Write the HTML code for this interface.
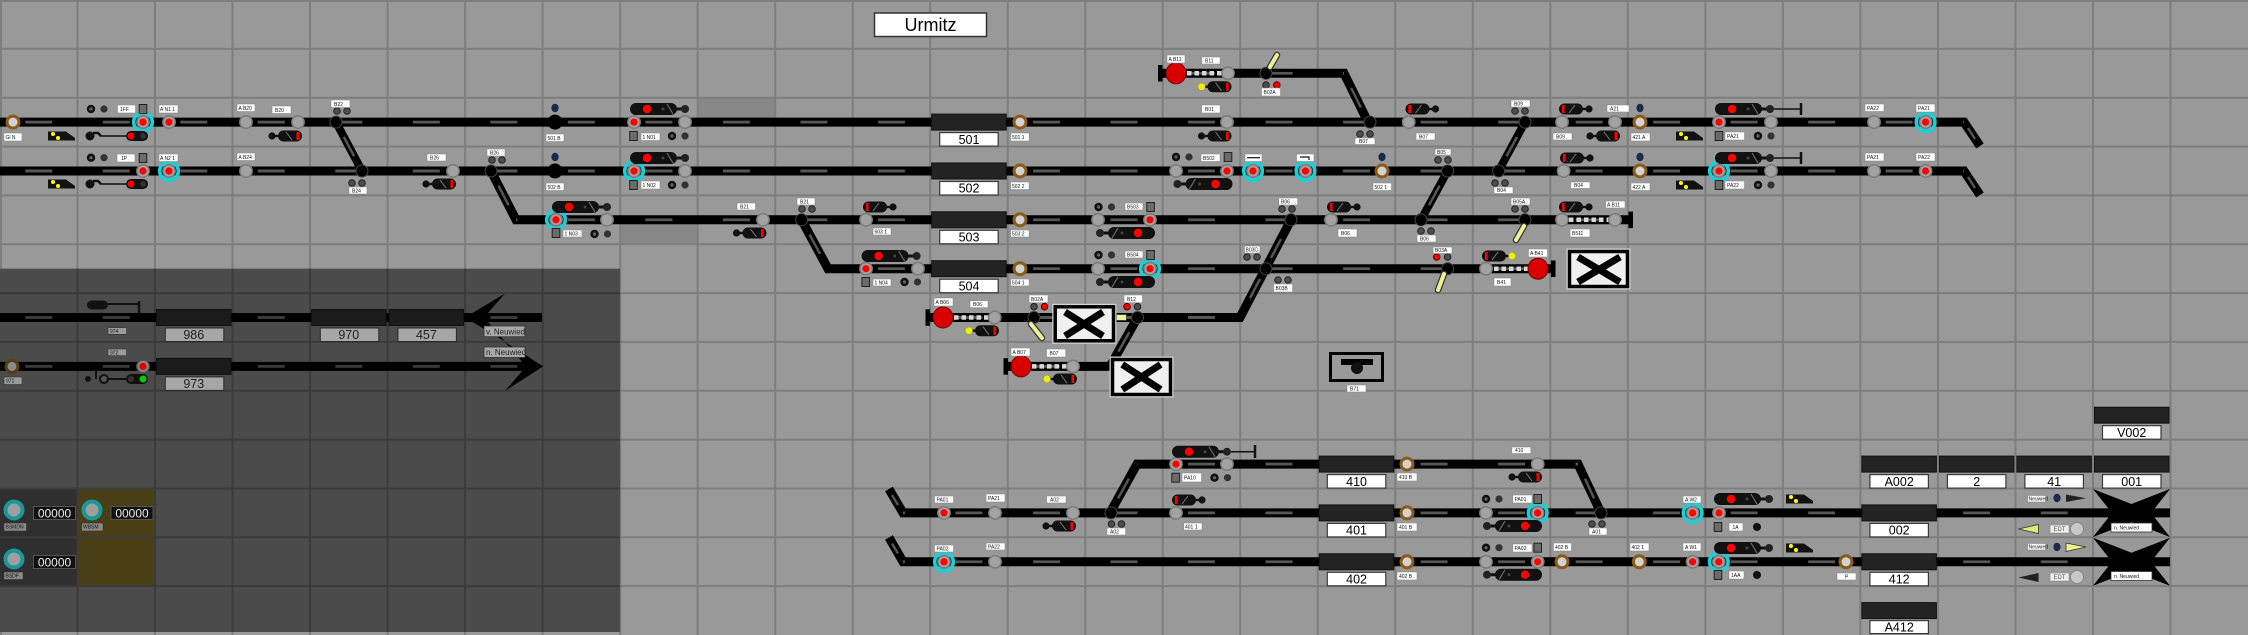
<!DOCTYPE html>
<html><head><meta charset="utf-8"><style>
html,body{margin:0;padding:0;background:#999;}
svg{display:block;}
.l{fill:#fff;stroke:#8a8a8a;stroke-width:.6}
.t{font-family:"Liberation Sans",sans-serif;font-size:5px;fill:#111}
.bk{fill:#232323;stroke:#111;stroke-width:1}
.bl{fill:#fff;stroke:#3a3a3a;stroke-width:1.2}
.bt{font-family:"Liberation Sans",sans-serif;font-size:12.5px;fill:#000;text-anchor:middle}
.dl{fill:#a6a6a6;stroke:#2a2a2a;stroke-width:1}
.dt{font-family:"Liberation Sans",sans-serif;font-size:12.5px;fill:#222;text-anchor:middle}
</style></head><body>
<svg width="2248" height="635" viewBox="0 0 2248 635" xmlns="http://www.w3.org/2000/svg">
<defs>
<pattern id="dp" x="0" y="0" width="77.517" height="48.846" patternUnits="userSpaceOnUse"><rect x="25.26" y="22.92" width="27" height="3" fill="#575757"/></pattern>
<pattern id="dq" x="0" y="0" width="77.517" height="48.846" patternUnits="userSpaceOnUse"><rect x="25.26" y="22.92" width="27" height="3" fill="#3a3a3a"/></pattern>
<g id="g"><circle r="6.2" fill="#a2a2a2" stroke="#7a7a7a" stroke-width="1.5"/></g>
<g id="r"><circle r="6.2" fill="#a2a2a2" stroke="#7a7a7a" stroke-width="1.5"/><circle r="3.6" fill="#f00"/></g>
<g id="c"><circle r="9.3" fill="none" stroke="#18d0d8" stroke-width="3.6"/><circle r="6.2" fill="#a2a2a2" stroke="#7a7a7a" stroke-width="1.5"/><circle r="3.6" fill="#f00"/></g>
<g id="b"><circle r="6" fill="#d2d2d2" stroke="#8b5b1b" stroke-width="3"/></g>
<g id="j"><circle r="6" fill="#000" stroke="#444" stroke-width="1"/></g>
<g id="J"><circle r="7.5" fill="#000"/></g>
<g id="n"><ellipse rx="3.6" ry="4.2" fill="#1b2a4a"/></g>
<g id="dd"><circle cx="-5" r="3.3" fill="#4d4d4d" stroke="#222" stroke-width="1"/><circle cx="5" r="3.3" fill="#4d4d4d" stroke="#222" stroke-width="1"/></g>
<g id="k2"><circle cx="-6.5" r="4.2" fill="#111"/><circle cx="-6.5" r="1.6" fill="#666"/><circle cx="6.5" r="3.6" fill="#333"/></g>
<g id="sq"><rect x="-3.8" y="-4.5" width="7.6" height="9" fill="#6b6b6b" stroke="#222" stroke-width="1"/></g>
<g id="dR"><circle cx="-14" r="3.6" fill="#111"/><rect x="-12" y="-1.2" width="5" height="2.4" fill="#111"/><rect x="-8" y="-5.5" width="24" height="11" rx="5.5" fill="#111"/><line x1="0" y1="-4" x2="6" y2="4" stroke="#777" stroke-width="1"/><rect x="10.5" y="-4" width="2.6" height="8" fill="#f00"/></g>
<g id="dL"><use href="#dR" transform="scale(-1,1)"/></g>
<g id="H"><rect x="0" y="-6" width="47" height="12" rx="6" fill="#111"/><circle cx="17" r="4.2" fill="#f00"/><circle cx="33" r="1.5" fill="#444"/><line x1="37" y1="-5" x2="43" y2="5" stroke="#777" stroke-width="1"/><rect x="46" y="-1.5" width="6" height="3" fill="#111"/><circle cx="55" r="4" fill="#222"/></g>
<g id="Y"><path d="M0,-4.5 H18 L27,2 V4.5 H0 Z" fill="#111"/><circle cx="5" cy="-2" r="2" fill="#ff0"/><circle cx="10" cy="2" r="2" fill="#ff0"/></g>
<g id="rd"><circle r="3.3" fill="#e00" stroke="#600" stroke-width="1"/></g>
<g id="dk"><circle r="3.3" fill="#4d4d4d" stroke="#222" stroke-width="1"/></g>
</defs>

<!-- background -->
<rect x="0" y="0" width="2248" height="635" fill="#999"/>
<rect x="697.65" y="97.69" width="77.52" height="24.42" fill="#878787"/>
<rect x="620.14" y="219.8" width="77.52" height="24.42" fill="#878787"/>

<!-- grid -->
<g stroke="#7e7e7e" stroke-width="2">
<line x1="77.52" y1="0" x2="77.52" y2="635"/><line x1="155.03" y1="0" x2="155.03" y2="635"/><line x1="232.55" y1="0" x2="232.55" y2="635"/><line x1="310.07" y1="0" x2="310.07" y2="635"/><line x1="387.59" y1="0" x2="387.59" y2="635"/><line x1="465.1" y1="0" x2="465.1" y2="635"/><line x1="542.62" y1="0" x2="542.62" y2="635"/><line x1="620.14" y1="0" x2="620.14" y2="635"/><line x1="697.65" y1="0" x2="697.65" y2="635"/><line x1="775.17" y1="0" x2="775.17" y2="635"/><line x1="852.69" y1="0" x2="852.69" y2="635"/><line x1="930.2" y1="0" x2="930.2" y2="635"/><line x1="1007.72" y1="0" x2="1007.72" y2="635"/><line x1="1085.24" y1="0" x2="1085.24" y2="635"/><line x1="1162.76" y1="0" x2="1162.76" y2="635"/><line x1="1240.27" y1="0" x2="1240.27" y2="635"/><line x1="1317.79" y1="0" x2="1317.79" y2="635"/><line x1="1395.31" y1="0" x2="1395.31" y2="635"/><line x1="1472.82" y1="0" x2="1472.82" y2="635"/><line x1="1550.34" y1="0" x2="1550.34" y2="635"/><line x1="1627.86" y1="0" x2="1627.86" y2="635"/><line x1="1705.37" y1="0" x2="1705.37" y2="635"/><line x1="1782.89" y1="0" x2="1782.89" y2="635"/><line x1="1860.41" y1="0" x2="1860.41" y2="635"/><line x1="1937.93" y1="0" x2="1937.93" y2="635"/><line x1="2015.44" y1="0" x2="2015.44" y2="635"/><line x1="2092.96" y1="0" x2="2092.96" y2="635"/><line x1="2170.48" y1="0" x2="2170.48" y2="635"/>
<line x1="0" y1="48.85" x2="2248" y2="48.85"/><line x1="0" y1="97.69" x2="2248" y2="97.69"/><line x1="0" y1="146.54" x2="2248" y2="146.54"/><line x1="0" y1="195.38" x2="2248" y2="195.38"/><line x1="0" y1="244.23" x2="2248" y2="244.23"/><line x1="0" y1="293.08" x2="2248" y2="293.08"/><line x1="0" y1="341.92" x2="2248" y2="341.92"/><line x1="0" y1="390.77" x2="2248" y2="390.77"/><line x1="0" y1="439.62" x2="2248" y2="439.62"/><line x1="0" y1="488.46" x2="2248" y2="488.46"/><line x1="0" y1="537.31" x2="2248" y2="537.31"/><line x1="0" y1="586.15" x2="2248" y2="586.15"/>
<line x1="0" y1="1" x2="2248" y2="1"/><line x1="1" y1="0" x2="1" y2="635"/>
</g>

<!-- dark region -->
<rect x="0" y="268.7" width="620.1" height="363.3" fill="#4b4b4b"/>
<rect x="0" y="488.46" width="77.52" height="97.69" fill="#2f2f2f"/>
<rect x="77.52" y="488.46" width="77.51" height="97.69" fill="#4a3e17"/>
<g stroke="#3b3b3b" stroke-width="2">
<line x1="77.52" y1="268.7" x2="77.52" y2="632"/><line x1="155.03" y1="268.7" x2="155.03" y2="632"/><line x1="232.55" y1="268.7" x2="232.55" y2="632"/><line x1="310.07" y1="268.7" x2="310.07" y2="632"/><line x1="387.59" y1="268.7" x2="387.59" y2="632"/><line x1="465.1" y1="268.7" x2="465.1" y2="632"/><line x1="542.62" y1="268.7" x2="542.62" y2="632"/>
<line x1="0" y1="293.08" x2="620" y2="293.08"/><line x1="0" y1="341.92" x2="620" y2="341.92"/><line x1="0" y1="390.77" x2="620" y2="390.77"/><line x1="0" y1="439.62" x2="620" y2="439.62"/><line x1="0" y1="488.46" x2="620" y2="488.46"/><line x1="0" y1="537.31" x2="620" y2="537.31"/><line x1="0" y1="586.15" x2="620" y2="586.15"/>
</g>

<!-- title -->
<rect x="874.5" y="13" width="112" height="23.5" fill="#fff" stroke="#333" stroke-width="1.5"/>
<text x="930.5" y="31" font-family="Liberation Sans, sans-serif" font-size="18" text-anchor="middle" fill="#000">Urmitz</text>

<!-- tracks -->
<g fill="none" stroke="#000" stroke-width="9" stroke-linejoin="miter">
<polyline points="0,122.1 1964,122.1 1980,146"/>
<polyline points="0,171 1964,171 1980,195"/>
<line x1="336" y1="122.1" x2="362" y2="171" stroke-width="8"/>
<polyline points="491,171 516,219.8 1630,219.8"/>
<polyline points="801.6,219.8 828,268.7 1553,268.7"/>
<polyline points="1161,73.3 1344,73.3 1368,122.1"/>
<line x1="1498.6" y1="171" x2="1525" y2="122.1" stroke-width="8"/>
<line x1="1421" y1="219.8" x2="1447.6" y2="171" stroke-width="8"/>
<polyline points="928,317.5 1240,317.5 1291,219.8"/>
<polyline points="1006,366.4 1110,366.4 1137.5,317.5"/>
<polyline points="1110,512.9 1137,464.1 1578,464.1 1601,512.9"/>
<polyline points="889,489 903,512.9 2170,512.9"/>
<polyline points="889,537.5 903,561.8 2170,561.8"/>
<line x1="0" y1="317.5" x2="542" y2="317.5"/>
<line x1="0" y1="366.4" x2="530" y2="366.4"/>
</g>
<!-- dashes -->
<rect x="0" y="120.6" width="1964" height="3" fill="url(#dp)"/>
<rect x="0" y="169.5" width="1964" height="3" fill="url(#dp)"/>
<rect x="516" y="218.3" width="1114" height="3" fill="url(#dp)"/>
<rect x="828" y="267.2" width="725" height="3" fill="url(#dp)"/>
<rect x="1161" y="71.8" width="183" height="3" fill="url(#dp)"/>
<rect x="928" y="316" width="312" height="3" fill="url(#dp)"/>
<rect x="1006" y="364.9" width="104" height="3" fill="url(#dp)"/>
<rect x="1137" y="462.6" width="441" height="3" fill="url(#dp)"/>
<rect x="903" y="511.4" width="1267" height="3" fill="url(#dp)"/>
<rect x="903" y="560.3" width="1267" height="3" fill="url(#dp)"/>
<rect x="0" y="316" width="542" height="3" fill="url(#dq)"/>
<rect x="0" y="364.9" width="542" height="3" fill="url(#dq)"/>
<g stroke="#555" stroke-width="2.5">
<line x1="343.8" y1="136.8" x2="354.2" y2="156.3"/>
<line x1="498.5" y1="185.6" x2="508.5" y2="205.2"/>
<line x1="809.5" y1="234.5" x2="820.1" y2="254"/>
<line x1="1351.2" y1="88" x2="1360.8" y2="107.5"/>
<line x1="1506.5" y1="156.3" x2="1517.1" y2="136.8"/>
<line x1="1429" y1="205.2" x2="1439.6" y2="185.6"/>
<line x1="1250" y1="298" x2="1260" y2="279"/>
<line x1="1271" y1="258" x2="1281" y2="239"/>
<line x1="1118.3" y1="351.7" x2="1129.3" y2="332.2"/>
<line x1="1118.1" y1="498.3" x2="1128.9" y2="478.7"/>
<line x1="1585" y1="478.7" x2="1594" y2="498.3"/>
<line x1="892" y1="495" x2="898" y2="505"/>
<line x1="892" y1="543.5" x2="898" y2="553.5"/>
<line x1="1968" y1="128" x2="1975" y2="139"/>
<line x1="1968" y1="177" x2="1975" y2="188"/>
</g>
<!-- checkers -->
<g stroke="#d8d8d8" stroke-width="4.5" stroke-dasharray="4.5 3">
<line x1="1187" y1="73.3" x2="1222" y2="73.3"/>
<line x1="954" y1="317.5" x2="989" y2="317.5"/>
<line x1="1032" y1="366.4" x2="1067" y2="366.4"/>
<line x1="1569" y1="219.8" x2="1610" y2="219.8"/>
<line x1="1494" y1="268.7" x2="1529" y2="268.7"/>
</g>
<!-- end bars -->
<g fill="#000">
<rect x="1158" y="65" width="4.5" height="16.5"/>
<rect x="925.5" y="309.3" width="4.5" height="16.5"/>
<rect x="1003.5" y="358.2" width="4.5" height="16.5"/>
<rect x="1628.5" y="211.6" width="4.5" height="16.5"/>
<rect x="1551" y="260.5" width="4.5" height="16.5"/>
</g>

<!-- dark area content -->
<rect x="87" y="300.5" width="21" height="9" rx="4.5" fill="#111"/>
<line x1="108" y1="304" x2="139" y2="304" stroke="#111" stroke-width="2"/>
<line x1="139" y1="301" x2="139" y2="313" stroke="#111" stroke-width="2.5"/>
<rect x="108" y="327.7" width="18.5" height="6.6" fill="#9a9a9a" stroke="#333" stroke-width=".6"/><text class="t" x="110" y="333">974</text>
<rect x="108" y="349" width="18.5" height="6.7" fill="#9a9a9a" stroke="#333" stroke-width=".6"/><text class="t" x="110" y="354.3">972</text>
<rect x="4" y="377" width="18" height="7.5" fill="#9a9a9a" stroke="#333" stroke-width=".6"/><text class="t" x="6" y="382.5">971</text>
<circle cx="12" cy="366.4" r="6" fill="#8a8a8a" stroke="#5a3c12" stroke-width="3"/>
<circle cx="143" cy="366.4" r="6.2" fill="#8a8a8a" stroke="#555" stroke-width="1.5"/><circle cx="143" cy="366.4" r="3.6" fill="#d00"/>
<circle cx="88" cy="379" r="3" fill="#111"/>
<line x1="96" y1="370" x2="96" y2="379" stroke="#111" stroke-width="2"/>
<circle cx="104" cy="379" r="4" fill="#555" stroke="#111" stroke-width="2"/>
<line x1="108" y1="379" x2="126" y2="379" stroke="#111" stroke-width="2"/>
<rect x="126" y="374" width="22" height="10" rx="5" fill="#111"/>
<circle cx="131" cy="379" r="3" fill="#333"/><circle cx="143" cy="379" r="3.5" fill="#0c0"/>
<rect x="156.5" y="309.5" width="74.5" height="16" fill="#1b1b1b" stroke="#111"/>
<rect x="311.6" y="309.5" width="74.5" height="16" fill="#1b1b1b" stroke="#111"/>
<rect x="389.1" y="309.5" width="74.5" height="16" fill="#1b1b1b" stroke="#111"/>
<rect x="156.5" y="358.4" width="74.5" height="16" fill="#1b1b1b" stroke="#111"/>
<rect class="dl" x="165.3" y="328" width="58.5" height="13.5"/><text class="dt" x="193.8" y="339.2">986</text>
<rect class="dl" x="320.3" y="328" width="58.5" height="13.5"/><text class="dt" x="348.8" y="339.2">970</text>
<rect class="dl" x="397.9" y="328" width="58.5" height="13.5"/><text class="dt" x="426.4" y="339.2">457</text>
<rect class="dl" x="165.3" y="376.9" width="58.5" height="13.5"/><text class="dt" x="193.8" y="388.1">973</text>
<polygon points="465,317.5 505,293.5 487,314 487,321 505,341.5" fill="#000"/>
<polygon points="543,366.4 505,342 523,363 523,370 505,391" fill="#000"/>
<rect x="484" y="326" width="41" height="10.7" fill="#a8a8a8" stroke="#333" stroke-width=".8"/><text x="486" y="334.3" font-family="Liberation Sans, sans-serif" font-size="8" fill="#222">v. Neuwied</text>
<rect x="484" y="347" width="41" height="10.5" fill="#a8a8a8" stroke="#333" stroke-width=".8"/><text x="486" y="355.2" font-family="Liberation Sans, sans-serif" font-size="8" fill="#222">n. Neuwied</text>
<!-- bottom panel -->
<circle cx="14" cy="510" r="8.5" fill="#9e9e9e" stroke="#17989a" stroke-width="4"/>
<circle cx="92" cy="510" r="8.5" fill="#9e9e9e" stroke="#17989a" stroke-width="4"/>
<circle cx="14" cy="559" r="8.5" fill="#9e9e9e" stroke="#17989a" stroke-width="4"/>
<rect x="33.5" y="506.5" width="42" height="13" fill="#111" stroke="#555" stroke-width="1"/><text x="54.5" y="517.6" font-family="Liberation Sans, sans-serif" font-size="12" fill="#e8e8e8" text-anchor="middle">00000</text>
<rect x="111" y="506.5" width="42" height="13" fill="#111" stroke="#555" stroke-width="1"/><text x="132" y="517.6" font-family="Liberation Sans, sans-serif" font-size="12" fill="#e8e8e8" text-anchor="middle">00000</text>
<rect x="33.5" y="555.5" width="42" height="13" fill="#111" stroke="#555" stroke-width="1"/><text x="54.5" y="566.6" font-family="Liberation Sans, sans-serif" font-size="12" fill="#e8e8e8" text-anchor="middle">00000</text>
<rect x="4" y="523" width="22.5" height="8" fill="#8a8a8a" stroke="#333" stroke-width=".6"/><text class="t" x="5.5" y="528.7">BSMDN</text>
<rect x="81.6" y="523" width="21.4" height="8" fill="#8a8a8a" stroke="#333" stroke-width=".6"/><text class="t" x="83" y="528.7">WBSM</text>
<rect x="4" y="572" width="19" height="7.5" fill="#8a8a8a" stroke="#333" stroke-width=".6"/><text class="t" x="5.5" y="577.5">BSDF</text>

<!-- blocks light area -->
<rect class="bk" x="931.7" y="114.1" width="74.5" height="16"/><rect class="bl" x="939.7" y="132.6" width="58.5" height="13.5"/><text class="bt" x="969" y="143.8">501</text>
<rect class="bk" x="931.7" y="163" width="74.5" height="16"/><rect class="bl" x="939.7" y="181.5" width="58.5" height="13.5"/><text class="bt" x="969" y="192.7">502</text>
<rect class="bk" x="931.7" y="211.8" width="74.5" height="16"/><rect class="bl" x="939.7" y="230.3" width="58.5" height="13.5"/><text class="bt" x="969" y="241.5">503</text>
<rect class="bk" x="931.7" y="260.7" width="74.5" height="16"/><rect class="bl" x="939.7" y="279.2" width="58.5" height="13.5"/><text class="bt" x="969" y="290.4">504</text>
<rect class="bk" x="1319.3" y="456.1" width="74.5" height="16"/><rect class="bl" x="1327.3" y="474.6" width="58.5" height="13.5"/><text class="bt" x="1356.6" y="485.8">410</text>
<rect class="bk" x="1319.3" y="504.9" width="74.5" height="16"/><rect class="bl" x="1327.3" y="523.4" width="58.5" height="13.5"/><text class="bt" x="1356.6" y="534.6">401</text>
<rect class="bk" x="1319.3" y="553.8" width="74.5" height="16"/><rect class="bl" x="1327.3" y="572.3" width="58.5" height="13.5"/><text class="bt" x="1356.6" y="583.5">402</text>
<rect class="bk" x="2094.5" y="407.2" width="74.5" height="16"/><rect class="bl" x="2102.5" y="425.7" width="58.5" height="13.5"/><text class="bt" x="2131.7" y="436.9">V002</text>
<rect class="bk" x="1861.9" y="456.1" width="74.5" height="16"/><rect class="bl" x="1869.9" y="474.6" width="58.5" height="13.5"/><text class="bt" x="1899.2" y="485.8">A002</text>
<rect class="bk" x="1939.4" y="456.1" width="74.5" height="16"/><rect class="bl" x="1947.4" y="474.6" width="58.5" height="13.5"/><text class="bt" x="1976.7" y="485.8">2</text>
<rect class="bk" x="2016.9" y="456.1" width="74.5" height="16"/><rect class="bl" x="2024.9" y="474.6" width="58.5" height="13.5"/><text class="bt" x="2054.2" y="485.8">41</text>
<rect class="bk" x="2094.5" y="456.1" width="74.5" height="16"/><rect class="bl" x="2102.5" y="474.6" width="58.5" height="13.5"/><text class="bt" x="2131.7" y="485.8">001</text>
<rect class="bk" x="1861.9" y="504.9" width="74.5" height="16"/><rect class="bl" x="1869.9" y="523.4" width="58.5" height="13.5"/><text class="bt" x="1899.2" y="534.6">002</text>
<rect class="bk" x="1861.9" y="553.8" width="74.5" height="16"/><rect class="bl" x="1869.9" y="572.3" width="58.5" height="13.5"/><text class="bt" x="1899.2" y="583.5">412</text>
<rect class="bk" x="1861.9" y="602.6" width="74.5" height="16"/><rect class="bl" x="1869.9" y="620.6" width="58.5" height="13"/><text class="bt" x="1899.2" y="631.4">A412</text>

<!-- Track 1 signals -->
<use href="#b" x="13" y="122.1"/><use href="#c" x="143" y="122.1"/><use href="#r" x="169" y="122.1"/><use href="#g" x="246" y="122.1"/><use href="#g" x="298" y="122.1"/><use href="#j" x="336" y="122.1"/><use href="#J" x="555" y="122.1"/><use href="#r" x="634" y="122.1"/><use href="#g" x="685" y="122.1"/><use href="#b" x="1020" y="122.1"/><use href="#g" x="1227" y="122.1"/><use href="#j" x="1370" y="122.1"/><use href="#g" x="1408.7" y="122.1"/><use href="#j" x="1525" y="122.1"/><use href="#g" x="1562" y="122.1"/><use href="#g" x="1615" y="122.1"/><use href="#b" x="1640" y="122.1"/><use href="#r" x="1719" y="122.1"/><use href="#g" x="1771" y="122.1"/><use href="#g" x="1874" y="122.1"/><use href="#c" x="1925.6" y="122.1"/>
<use href="#k2" x="97.5" y="109"/><use href="#sq" x="143" y="109"/><use href="#dd" x="342" y="111"/><use href="#n" x="555" y="108"/><use href="#H" x="630" y="109"/><use href="#dL" x="1421.5" y="109"/><use href="#dd" x="1520" y="111"/><use href="#dL" x="1575" y="109"/><use href="#n" x="1640" y="108"/><use href="#H" x="1715" y="109"/>
<line x1="1774" y1="109" x2="1800" y2="109" stroke="#111" stroke-width="1.5"/><line x1="1801" y1="103" x2="1801" y2="115" stroke="#111" stroke-width="2.5"/>
<use href="#Y" x="48" y="136"/><use href="#dR" x="286" y="136"/><use href="#sq" x="633.5" y="136"/><use href="#k2" x="678.5" y="136"/><use href="#dR" x="1215.5" y="136"/><use href="#dd" x="1365" y="134"/><use href="#dR" x="1604" y="136"/><use href="#Y" x="1676" y="136"/><use href="#sq" x="1719" y="136"/><use href="#k2" x="1764.5" y="136"/>
<!-- shunt signals left -->
<g>
<circle cx="90" cy="136" r="4.5" fill="#111"/><path d="M93,133 L98,133 L101,136" fill="none" stroke="#111" stroke-width="2.5"/><line x1="100" y1="136" x2="127" y2="136" stroke="#111" stroke-width="1.5"/><rect x="126" y="131" width="22" height="10" rx="5" fill="#111"/><circle cx="131" cy="136" r="3.5" fill="#f00"/><circle cx="143" cy="136" r="3" fill="#333"/>
<circle cx="90" cy="184" r="4.5" fill="#111"/><path d="M93,181 L98,181 L101,184" fill="none" stroke="#111" stroke-width="2.5"/><line x1="100" y1="184" x2="127" y2="184" stroke="#111" stroke-width="1.5"/><rect x="126" y="179" width="22" height="10" rx="5" fill="#111"/><circle cx="131" cy="184" r="3.5" fill="#f00"/><circle cx="143" cy="184" r="3" fill="#333"/>
</g>

<!-- Track 2 signals -->
<use href="#r" x="143" y="171"/><use href="#c" x="169" y="171"/><use href="#g" x="246" y="171"/><use href="#j" x="362" y="171"/><use href="#g" x="453" y="171"/><use href="#j" x="491" y="171"/><use href="#J" x="555" y="171"/><use href="#c" x="634" y="171"/><use href="#g" x="685" y="171"/><use href="#b" x="1020" y="171"/><use href="#g" x="1176" y="171"/><use href="#r" x="1227" y="171"/><use href="#c" x="1253" y="171"/><use href="#c" x="1305.5" y="171"/><use href="#b" x="1382" y="171"/><use href="#j" x="1447.6" y="171"/><use href="#j" x="1498.6" y="171"/><use href="#g" x="1563.6" y="171"/><use href="#b" x="1640" y="171"/><use href="#c" x="1719" y="171"/><use href="#g" x="1771" y="171"/><use href="#g" x="1874" y="171"/><use href="#r" x="1925.6" y="171"/>
<use href="#k2" x="97.5" y="157.7"/><use href="#sq" x="143" y="158"/><use href="#dd" x="497" y="160"/><use href="#n" x="555" y="157"/><use href="#H" x="630" y="158"/><use href="#k2" x="1182.5" y="157"/><use href="#sq" x="1228" y="157"/><use href="#n" x="1382" y="157"/><use href="#dd" x="1443" y="160"/><use href="#dL" x="1576" y="158"/><use href="#n" x="1640" y="157"/><use href="#H" x="1715" y="158"/>
<line x1="1774" y1="158" x2="1800" y2="158" stroke="#111" stroke-width="1.5"/><line x1="1801" y1="152" x2="1801" y2="164" stroke="#111" stroke-width="2.5"/>
<use href="#Y" x="48" y="184"/><use href="#dd" x="357" y="183"/><use href="#dR" x="440" y="184"/><use href="#sq" x="633.5" y="185"/><use href="#k2" x="678.5" y="185"/><use href="#H" transform="translate(1232.5,184) scale(-1,1)"/><use href="#dd" x="1500" y="183"/><use href="#Y" x="1676" y="185"/><use href="#sq" x="1719" y="185"/><use href="#k2" x="1764.5" y="185"/>

<!-- Track 3 signals -->
<use href="#c" x="556" y="219.8"/><use href="#g" x="607" y="219.8"/><use href="#g" x="763" y="219.8"/><use href="#j" x="801.6" y="219.8"/><use href="#g" x="866" y="219.8"/><use href="#b" x="1020" y="219.8"/><use href="#g" x="1098" y="219.8"/><use href="#r" x="1150" y="219.8"/><use href="#j" x="1291" y="219.8"/><use href="#g" x="1331" y="219.8"/><use href="#j" x="1421" y="219.8"/><use href="#j" x="1525" y="219.8"/><use href="#g" x="1562" y="219.8"/><use href="#g" x="1615" y="219.8"/>
<use href="#H" x="552" y="207"/><use href="#dd" x="807" y="209"/><use href="#dL" x="879" y="207"/><use href="#k2" x="1105" y="207"/><use href="#sq" x="1150.6" y="207"/><use href="#dd" x="1287" y="209"/><use href="#dL" x="1343" y="207"/><use href="#dd" x="1520" y="209"/><use href="#dL" x="1575" y="207"/>
<use href="#sq" x="556" y="233"/><use href="#k2" x="601" y="234"/><use href="#dR" x="750.5" y="233"/><use href="#H" transform="translate(1155,233) scale(-1,1)"/><use href="#dd" x="1426" y="231"/>

<!-- Track 4 signals -->
<use href="#r" x="866" y="268.7"/><use href="#g" x="918" y="268.7"/><use href="#b" x="1020" y="268.7"/><use href="#g" x="1098" y="268.7"/><use href="#c" x="1150" y="268.7"/><use href="#j" x="1266" y="268.7"/><use href="#j" x="1447.6" y="268.7"/><use href="#g" x="1486" y="268.7"/>
<use href="#H" x="861.6" y="256"/><use href="#k2" x="1105" y="255"/><use href="#sq" x="1150.6" y="255"/><use href="#dd" x="1252" y="257"/><use href="#rd" x="1436.7" y="257"/><use href="#dk" x="1447.6" y="257"/><use href="#dL" x="1498" y="256"/><circle cx="1512" cy="256" r="3.6" fill="#ee0"/>
<use href="#sq" x="865.7" y="282"/><use href="#k2" x="911" y="282"/><use href="#H" transform="translate(1155,282) scale(-1,1)"/><use href="#dd" x="1283" y="280"/>

<!-- Top track -->
<use href="#g" x="1228" y="73.3"/><use href="#j" x="1266" y="73.3"/>
<use href="#dR" x="1215.5" y="86.7"/><circle cx="1201.6" cy="86.7" r="3.6" fill="#ee0"/>
<use href="#dk" x="1266" y="85"/><use href="#rd" x="1276.8" y="85"/>

<!-- Track 5/6 -->
<use href="#g" x="994.7" y="317.5"/><use href="#j" x="1034" y="317.5"/><use href="#j" x="1137.5" y="317.5"/>
<use href="#dk" x="1034" y="306.7"/><use href="#rd" x="1044.5" y="306.7"/><use href="#rd" x="1127" y="306.7"/><use href="#dk" x="1137.5" y="306.7"/>
<use href="#dR" x="983" y="330.7"/><circle cx="969" cy="330.7" r="3.6" fill="#ee0"/>
<use href="#g" x="1073" y="366.4"/>
<use href="#dR" x="1061" y="379"/><circle cx="1047" cy="379" r="3.6" fill="#ee0"/>

<!-- Big red signals -->
<g fill="#d80000" stroke="#700" stroke-width="1">
<ellipse cx="1176" cy="73.3" rx="10" ry="10.5"/>
<ellipse cx="943" cy="317.5" rx="10" ry="10.5"/>
<ellipse cx="1021" cy="366.4" rx="10" ry="10.5"/>
<ellipse cx="1538" cy="268.7" rx="10" ry="10.5"/>
</g>

<!-- yellow stubs -->
<g stroke-linecap="round">
<line x1="1277" y1="55" x2="1270" y2="67" stroke="#333" stroke-width="6.5"/><line x1="1277" y1="55" x2="1270" y2="67" stroke="#eef09a" stroke-width="4"/>
<line x1="1524" y1="226" x2="1516" y2="240" stroke="#333" stroke-width="6.5"/><line x1="1524" y1="226" x2="1516" y2="240" stroke="#eef09a" stroke-width="4"/>
<line x1="1444" y1="274" x2="1438" y2="290" stroke="#333" stroke-width="6.5"/><line x1="1444" y1="274" x2="1438" y2="290" stroke="#eef09a" stroke-width="4"/>
<line x1="1031" y1="324" x2="1042" y2="338" stroke="#333" stroke-width="6.5"/><line x1="1031" y1="324" x2="1042" y2="338" stroke="#eef09a" stroke-width="4"/>
</g>
<rect x="1116.5" y="314.5" width="10" height="6" fill="#eef09a" stroke="#333" stroke-width=".8"/>

<!-- X boxes -->
<g>
<rect x="1052.7" y="304.3" width="63.3" height="39" fill="#f0f0f0" stroke="#d0d0d0" stroke-width="1"/><rect x="1055.2" y="306.8" width="58.3" height="34" fill="none" stroke="#000" stroke-width="3.5"/><path d="M1065,312 L1103,336 M1103,312 L1065,336" stroke="#000" stroke-width="7"/>
<rect x="1110" y="357" width="63" height="40" fill="#f0f0f0" stroke="#d0d0d0" stroke-width="1"/><rect x="1112.5" y="359.5" width="58" height="35" fill="none" stroke="#000" stroke-width="3.5"/><path d="M1122.3,364.5 L1160.6,389.5 M1160.6,364.5 L1122.3,389.5" stroke="#000" stroke-width="7"/>
<rect x="1567" y="249" width="63" height="40" fill="#f0f0f0" stroke="#d0d0d0" stroke-width="1"/><rect x="1569.5" y="251.5" width="58" height="35" fill="none" stroke="#000" stroke-width="3.5"/><path d="M1578,257 L1620,282 M1620,257 L1578,282" stroke="#000" stroke-width="7"/>
</g>
<!-- symbol box -->
<rect x="1330.5" y="353.5" width="52" height="27" fill="#9a9a9a" stroke="#000" stroke-width="3"/>
<rect x="1341" y="359" width="32" height="6" fill="#000"/><circle cx="1357" cy="368" r="6" fill="#111"/>

<!-- Track 410 -->
<use href="#r" x="1176" y="464.1"/><use href="#g" x="1227" y="464.1"/><use href="#b" x="1407" y="464.1"/><use href="#g" x="1537.7" y="464.1"/>
<use href="#H" x="1172" y="451.7"/><line x1="1231" y1="451.7" x2="1254" y2="451.7" stroke="#111" stroke-width="1.5"/><line x1="1255" y1="445" x2="1255" y2="458" stroke="#111" stroke-width="2.5"/>
<use href="#sq" x="1175.6" y="477.7"/><use href="#k2" x="1221" y="477.7"/><use href="#dR" x="1526" y="477"/>
<!-- Track 401 -->
<use href="#r" x="944" y="512.9"/><use href="#g" x="995" y="512.9"/><use href="#g" x="1073" y="512.9"/><use href="#j" x="1111" y="512.9"/><use href="#g" x="1176" y="512.9"/><use href="#b" x="1407" y="512.9"/><use href="#g" x="1486" y="512.9"/><use href="#c" x="1537.7" y="512.9"/><use href="#j" x="1601" y="512.9"/><use href="#c" x="1692.6" y="512.9"/><use href="#r" x="1719" y="512.9"/>
<use href="#dL" x="1188" y="500"/><use href="#k2" x="1492.5" y="499"/><use href="#sq" x="1537.7" y="499"/><use href="#H" x="1714" y="499"/><use href="#Y" x="1786" y="499"/>
<use href="#dR" x="1060" y="526"/><use href="#dd" x="1116.5" y="524"/><use href="#H" transform="translate(1542,526) scale(-1,1)"/><use href="#dd" x="1597" y="524"/><use href="#sq" x="1718" y="527"/><circle cx="1757" cy="527" r="4" fill="#111"/>
<!-- Track 402 -->
<use href="#c" x="944" y="561.8"/><use href="#g" x="995" y="561.8"/><use href="#b" x="1407" y="561.8"/><use href="#g" x="1486" y="561.8"/><use href="#r" x="1537.7" y="561.8"/><use href="#b" x="1562" y="561.8"/><use href="#b" x="1639.3" y="561.8"/><use href="#r" x="1692.6" y="561.8"/><use href="#c" x="1718.8" y="561.8"/><use href="#b" x="1846" y="561.8"/>
<use href="#k2" x="1492.5" y="547.7"/><use href="#sq" x="1537.7" y="547.7"/><use href="#H" x="1714" y="548"/><use href="#Y" x="1786" y="548"/>
<use href="#H" transform="translate(1542,574.7) scale(-1,1)"/><use href="#sq" x="1718" y="575"/><circle cx="1757" cy="575" r="4" fill="#111"/>

<!-- right side stars and triangles -->
<polygon points="2093,489 2131.5,504 2170,489 2151,513 2170,537 2131.5,522 2093,537 2112,513" fill="#000"/>
<polygon points="2093,537.8 2131.5,552.8 2170,537.8 2151,561.8 2170,585.8 2131.5,570.8 2093,585.8 2112,561.8" fill="#000"/>
<polygon points="2066,494.5 2086,498.2 2066,502" fill="#222"/>
<polygon points="2018.5,529 2038.5,524.5 2038.5,533.5" fill="#d8ec78" stroke="#333" stroke-width=".8"/>
<polygon points="2066,543 2086,547 2066,551.5" fill="#eef08a" stroke="#333" stroke-width=".8"/>
<polygon points="2018.5,577.5 2038.5,573 2038.5,582" fill="#222"/>
<use href="#n" x="2057" y="498"/><use href="#n" x="2057" y="547"/>
<circle cx="2077" cy="529" r="6.5" fill="#c8c8c8" stroke="#888" stroke-width="1"/>
<circle cx="2077" cy="577" r="6.5" fill="#c8c8c8" stroke="#888" stroke-width="1"/>

<!-- small labels -->
<g>
<rect class="l" x="4" y="133" width="18" height="8"/><text class="t" x="5.5" y="139">Gl N</text>
<rect class="l" x="117.5" y="105" width="18" height="8"/><text class="t" x="120" y="111">1FF</text>
<rect class="l" x="159" y="105" width="19" height="8"/><text class="t" x="160" y="111">A N1 1</text>
<rect class="l" x="237" y="104" width="18" height="7.5"/><text class="t" x="238.5" y="110">A B20</text>
<rect class="l" x="272" y="106" width="19" height="7.5"/><text class="t" x="275" y="112">B20</text>
<rect class="l" x="331" y="100" width="19" height="7.5"/><text class="t" x="334" y="106">B22</text>
<rect class="l" x="546" y="134" width="18" height="7.5"/><text class="t" x="547.5" y="140">501 B</text>
<rect class="l" x="641" y="133" width="19" height="7.5"/><text class="t" x="642.5" y="139">1 N01</text>
<rect class="l" x="1010.6" y="133" width="18.5" height="8"/><text class="t" x="1012" y="139">501 1</text>
<rect class="l" x="1201.6" y="105" width="18.5" height="8"/><text class="t" x="1205" y="111">B01</text>
<rect class="l" x="1355" y="138" width="20" height="6.5"/><text class="t" x="1359" y="143">B07</text>
<rect class="l" x="1416" y="133" width="19" height="7"/><text class="t" x="1419" y="138.5">B07</text>
<rect class="l" x="1511" y="100" width="19" height="7"/><text class="t" x="1514" y="105.5">B09</text>
<rect class="l" x="1553" y="133" width="19" height="7"/><text class="t" x="1556" y="138.5">B09</text>
<rect class="l" x="1607" y="105" width="22" height="7"/><text class="t" x="1610" y="110.5">A21</text>
<rect class="l" x="1631" y="133" width="19" height="8"/><text class="t" x="1632.5" y="139">421 A</text>
<rect class="l" x="1725" y="132" width="19.5" height="8"/><text class="t" x="1727" y="138">PA21</text>
<rect class="l" x="1865" y="104" width="19" height="7.5"/><text class="t" x="1867" y="110">PA22</text>
<rect class="l" x="1916" y="104" width="19" height="8"/><text class="t" x="1918" y="110">PA21</text>

<rect class="l" x="117" y="154" width="18" height="8"/><text class="t" x="121" y="160">1P</text>
<rect class="l" x="159" y="154" width="19" height="7.5"/><text class="t" x="160" y="160">A N2 1</text>
<rect class="l" x="237" y="153" width="18" height="7.5"/><text class="t" x="238.5" y="159">A B24</text>
<rect class="l" x="349" y="187" width="18" height="7"/><text class="t" x="352" y="192.5">B24</text>
<rect class="l" x="427" y="154" width="19" height="7"/><text class="t" x="430" y="159.5">B26</text>
<rect class="l" x="487" y="149" width="18" height="7"/><text class="t" x="490" y="154.5">B26</text>
<rect class="l" x="546" y="183" width="18" height="7.5"/><text class="t" x="547.5" y="189">502 B</text>
<rect class="l" x="641" y="181" width="19" height="8"/><text class="t" x="642.5" y="187">1 N02</text>
<rect class="l" x="1010.6" y="182" width="18.5" height="7.5"/><text class="t" x="1012" y="188">502 2</text>
<rect class="l" x="1201" y="154" width="19" height="7.5"/><text class="t" x="1203" y="160">B502</text>
<rect class="l" x="1245" y="154" width="17" height="7.5"/><line x1="1247" y1="157.7" x2="1260" y2="157.7" stroke="#111" stroke-width="1.2"/>
<rect class="l" x="1296.5" y="154" width="17.5" height="7.5"/><path d="M1300,157 H1309 V160" fill="none" stroke="#111" stroke-width="1.2"/>
<rect class="l" x="1373" y="183" width="18.5" height="7.5"/><text class="t" x="1374.5" y="189">502 1</text>
<rect class="l" x="1435" y="149" width="16" height="6"/><text class="t" x="1437" y="154">B05</text>
<rect class="l" x="1494" y="187" width="19" height="6.5"/><text class="t" x="1497" y="192">B04</text>
<rect class="l" x="1570.6" y="182" width="19.4" height="6.5"/><text class="t" x="1574" y="187">B04</text>
<rect class="l" x="1631" y="183" width="19" height="7.5"/><text class="t" x="1632.5" y="189">422 A</text>
<rect class="l" x="1725" y="181" width="19.5" height="8"/><text class="t" x="1727" y="187">PA22</text>
<rect class="l" x="1865" y="153" width="19" height="8"/><text class="t" x="1867" y="159">PA21</text>
<rect class="l" x="1916" y="153" width="19" height="8"/><text class="t" x="1918" y="159">PA22</text>

<rect class="l" x="563" y="230" width="19" height="7"/><text class="t" x="564.5" y="235.5">1 N03</text>
<rect class="l" x="737" y="203" width="18.5" height="7"/><text class="t" x="740" y="208.5">B21</text>
<rect class="l" x="797" y="198" width="18" height="7"/><text class="t" x="800" y="203.5">B21</text>
<rect class="l" x="873" y="228" width="18" height="7"/><text class="t" x="874.5" y="233.5">503 1</text>
<rect class="l" x="1010.6" y="230" width="18.5" height="7"/><text class="t" x="1012" y="235.5">503 2</text>
<rect class="l" x="1125" y="203" width="18" height="7"/><text class="t" x="1127" y="208.5">B503</text>
<rect class="l" x="1278.7" y="198" width="19" height="7"/><text class="t" x="1281" y="203.5">B06</text>
<rect class="l" x="1338" y="229" width="19" height="8"/><text class="t" x="1341" y="235">B06</text>
<rect class="l" x="1417" y="235" width="19" height="7"/><text class="t" x="1420" y="240.5">B06</text>
<rect class="l" x="1511" y="198" width="19" height="7"/><text class="t" x="1513" y="203.5">B05A</text>
<rect class="l" x="1570" y="229" width="20" height="8"/><text class="t" x="1572" y="235">B511</text>
<rect class="l" x="1605.6" y="201" width="19.4" height="7"/><text class="t" x="1607" y="206.5">A B11</text>

<rect class="l" x="873" y="279" width="18" height="7"/><text class="t" x="874.5" y="284.5">1 N04</text>
<rect class="l" x="1010.6" y="279" width="18.5" height="7"/><text class="t" x="1012" y="284.5">504 1</text>
<rect class="l" x="1125" y="251" width="18" height="7"/><text class="t" x="1127" y="256.5">B504</text>
<rect class="l" x="1244.5" y="246" width="15.5" height="7"/><text class="t" x="1245.5" y="251.5">B03C</text>
<rect class="l" x="1273.6" y="284" width="19" height="8"/><text class="t" x="1275.5" y="290">B03B</text>
<rect class="l" x="1433" y="247" width="19" height="6.5"/><text class="t" x="1435" y="252">B03A</text>
<rect class="l" x="1494" y="278" width="17" height="8"/><text class="t" x="1497" y="284">B41</text>
<rect class="l" x="1528.5" y="249" width="19" height="8"/><text class="t" x="1530" y="255">A B41</text>

<rect class="l" x="1167" y="55" width="18" height="8"/><text class="t" x="1168.5" y="61">A B11</text>
<rect class="l" x="1201.6" y="57" width="18.5" height="7"/><text class="t" x="1205" y="62.5">B11</text>
<rect class="l" x="1261.5" y="88" width="19" height="8"/><text class="t" x="1263.5" y="94">B02A</text>

<rect class="l" x="934" y="298" width="19" height="8"/><text class="t" x="935.5" y="304">A B06</text>
<rect class="l" x="970" y="300.7" width="18" height="7"/><text class="t" x="973" y="306.2">B06</text>
<rect class="l" x="1029" y="295" width="19" height="7.7"/><text class="t" x="1031" y="301">B02A</text>
<rect class="l" x="1124" y="295" width="18.5" height="7.7"/><text class="t" x="1127" y="301">B12</text>
<rect class="l" x="1011" y="348" width="19" height="8"/><text class="t" x="1012.5" y="354">A B07</text>
<rect class="l" x="1046.5" y="349" width="19.2" height="8"/><text class="t" x="1049.5" y="355">B07</text>
<rect class="l" x="1347" y="385" width="19" height="7"/><text class="t" x="1350" y="390.5">B71</text>

<rect class="l" x="1182" y="473" width="19.5" height="9"/><text class="t" x="1184" y="479.5">PA10</text>
<rect class="l" x="1397" y="473" width="20" height="8"/><text class="t" x="1399" y="479">410 B</text>
<rect class="l" x="1511.8" y="447" width="19" height="6.5"/><text class="t" x="1515" y="452">410</text>
<rect class="l" x="934.5" y="496" width="19" height="7"/><text class="t" x="936.5" y="501.5">PA01</text>
<rect class="l" x="986" y="494" width="19" height="8"/><text class="t" x="988" y="500">PA21</text>
<rect class="l" x="1046.6" y="496" width="19.4" height="7"/><text class="t" x="1050" y="501.5">A02</text>
<rect class="l" x="1107" y="528" width="18.6" height="7"/><text class="t" x="1110" y="533.5">A02</text>
<rect class="l" x="1183.7" y="523" width="18.3" height="7"/><text class="t" x="1185" y="528.5">401 1</text>
<rect class="l" x="1397" y="523" width="20" height="8"/><text class="t" x="1399" y="529">401 B</text>
<rect class="l" x="1512.7" y="495" width="19.3" height="8"/><text class="t" x="1514.5" y="501">PA01</text>
<rect class="l" x="1589" y="528" width="18" height="7"/><text class="t" x="1592" y="533.5">A01</text>
<rect class="l" x="1683" y="496" width="18" height="7"/><text class="t" x="1685" y="501.5">A W2</text>
<rect class="l" x="1729" y="523" width="14" height="8"/><text class="t" x="1732.5" y="529">1A</text>
<rect class="l" x="934.5" y="545" width="19" height="7"/><text class="t" x="936.5" y="550.5">PA02</text>
<rect class="l" x="986" y="543" width="19" height="7"/><text class="t" x="988" y="548.5">PA22</text>
<rect class="l" x="1397" y="572" width="20" height="8"/><text class="t" x="1399" y="578">402 B</text>
<rect class="l" x="1512.7" y="544" width="19.3" height="8"/><text class="t" x="1514.5" y="550">PA02</text>
<rect class="l" x="1553.5" y="543" width="18" height="8"/><text class="t" x="1555" y="549">402 B</text>
<rect class="l" x="1630" y="543" width="19" height="8"/><text class="t" x="1631.5" y="549">402 1</text>
<rect class="l" x="1683" y="543" width="18" height="8"/><text class="t" x="1685" y="549">A W1</text>
<rect class="l" x="1729" y="571" width="15" height="8"/><text class="t" x="1731" y="577">1AA</text>
<rect class="l" x="1837" y="573" width="19" height="7"/><text class="t" x="1845" y="578.5">P</text>

<rect class="l" x="2027.6" y="495.5" width="18" height="6.5"/><text class="t" x="2028.5" y="500.5">Neuwied</text>
<rect class="l" x="2050" y="525" width="19" height="8" style="fill:#eee"/><text class="t" x="2053.5" y="531" style="font-size:6px;fill:#555">EDT</text>
<rect class="l" x="2027.6" y="543.5" width="18" height="6.5"/><text class="t" x="2028.5" y="548.5">Neuwied</text>
<rect class="l" x="2050" y="573" width="19" height="8" style="fill:#eee"/><text class="t" x="2053.5" y="579" style="font-size:6px;fill:#555">EDT</text>
<rect x="2111" y="523" width="41" height="9" fill="#fff" stroke="#333" stroke-width=".8"/><text class="t" x="2114" y="529.5">n. Neuwied</text>
<rect x="2111" y="571.5" width="41" height="9" fill="#fff" stroke="#333" stroke-width=".8"/><text class="t" x="2114" y="578">n. Neuwied</text>
</g>
</svg>
</body></html>
